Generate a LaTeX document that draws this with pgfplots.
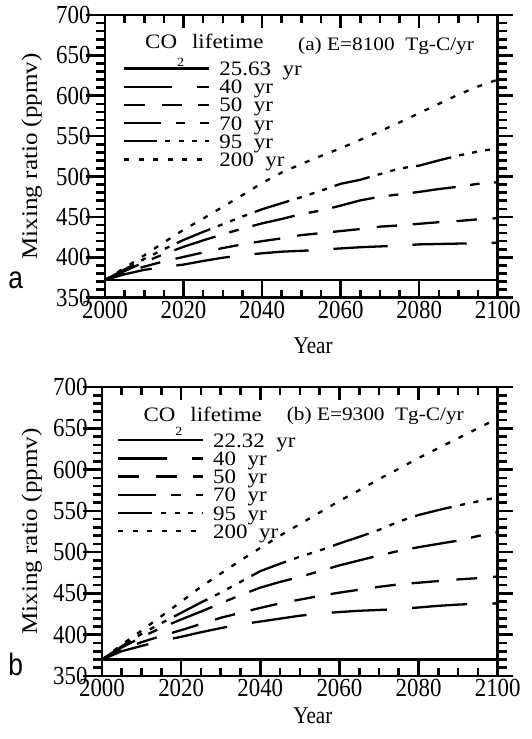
\documentclass[border=0pt]{standalone}
\usepackage{fontspec}
\setmainfont{Liberation Serif}
\newfontfamily\tickfam{Liberation Serif}[FakeStretch=0.88]
\newfontfamily\labfam{Liberation Serif}[FakeStretch=1.12]
\newfontfamily\sansfam{Liberation Sans}[FakeStretch=0.85]
\usepackage{pgfplots}
\usepackage{pgfplotstable}
\pgfplotsset{compat=1.18}

\newcommand\tickfnt{\tickfam\fontsize{26}{26}\selectfont}
\newcommand\yearfnt{\tickfam\fontsize{24}{24}\selectfont}
\newcommand\ylabfnt{\labfam\fontsize{22.4}{22.4}\selectfont}
\newcommand\legfnt{\labfam\fontsize{20.5}{20.5}\selectfont}
\newcommand\annfnt{\labfam\fontsize{19}{19}\selectfont}
\newcommand\panelfnt{\sansfam\fontsize{31}{31}\selectfont}

\pgfplotstableread{
yr   c    t40    t50    t70    t95    t200
2000 372  372    372    372    372    372
2005 372  379    380.5  383    385    387
2010 372  384.5  388.5  394    398    402.5
2015 372  388    395    404    410    418.5
2020 372  391    400.5  413    421.5  434
2025 372  395.5  406    421    431.5  448
2030 372  399.5  411.5  428.5  441    462.5
2035 372  402.5  416    435.5  450.5  477
2040 372  405    420    442    459.5  492
2045 372  407    423.5  447.5  467    505
2050 372  408    427.5  453.5  474.5  515.5
2055 372  409.5  430    458    482.5  525.5
2060 372  411    432.5  464    491    535
2065 372  412.5  435    470.5  496    545.5
2070 372  413.5  438    475    503    556
2075 372  414.5  439.5  478    510    567
2080 372  416    441.5  481    513.5  578.5
2085 372  416.5  443.5  484.5  520    590
2090 372  417    445    487.5  526    601.5
2095 372  417.5  447    491    531    611.5
2100 372  418    448.5  493    535    620
}\dataA

\pgfplotstableread{
yr   c    t40    t50    t70    t95    t200
2000 370  370    370    370    370    370
2005 370  380    382    384.5  386    388
2010 370  386.5  391    397    401    405
2015 370  392.5  398.5  408.5  414    422.5
2020 370  397.5  405.5  418.5  426.5  440
2025 370  403    413    428    439    458
2030 370  408    420.5  438    451    474
2035 370  412.5  426.5  448    464    490
2040 370  416    432.5  457    477    505
2045 370  419.5  438    464    486    520
2050 370  423    442.5  470    494.5  534
2055 370  425.5  447    477    502    548
2060 370  427.5  451    484    510.5  562
2065 370  429    454.5  490    518.5  575
2070 370  430    458    496    527    588.5
2075 370  431    461    501.5  537    601
2080 370  433    463    506    545    614
2085 370  435    465    510    551    626
2090 370  436.5  467    514    556.5  638
2095 370  437.5  468.5  519.5  561.5  650
2100 370  438    470.5  524    566.5  662
}\dataB

\tikzset{
  a40/.style={dash pattern=on 54.3pt off 24.8pt, dash phase=6.2pt},
  a50/.style={dash pattern=on 26.7pt off 17.2pt on 20.4pt off 15.7pt, dash phase=6.3pt},
  a70/.style={dash pattern=on 43.4pt off 14.4pt on 9.7pt off 14.4pt, dash phase=6.5pt},
  a95/.style={dash pattern=on 36.2pt off 8.2pt on 5pt off 8.2pt on 5pt off 8.2pt on 5pt off 8.2pt, dash phase=3.3pt},
  b40/.style={dash pattern=on 55.2pt off 25.3pt, dash phase=6.3pt},
  b50/.style={dash pattern=on 27.3pt off 17.6pt on 20.8pt off 16pt, dash phase=6.5pt},
  b70/.style={dash pattern=on 44.7pt off 14.9pt on 10pt off 14.9pt, dash phase=6.7pt},
  b95/.style={dash pattern=on 37.6pt off 8.6pt on 5.1pt off 8.6pt on 5.1pt off 8.6pt on 5.1pt off 8.6pt, dash phase=3.4pt},
  d200/.style={dash pattern=on 5pt off 9.5pt},
}

\pgfplotsset{
  myaxis/.style={
    scale only axis,
    anchor=south west,
    xmin=2000, xmax=2100, ymin=350, ymax=700,
    xtick={2000,2020,...,2100}, ytick={350,400,...,700},
    major tick length=0pt, minor tick length=0pt,
    axis line style={line width=2.7pt},
    tick label style={font=\tickfnt},
    yticklabel style={xshift=-11pt},
    /pgf/number format/assume math mode=true,
    /pgf/number format/1000 sep={},
    legend cell align=left,
    legend image code/.code={\draw[#1] (0pt,0pt) -- (85pt,0pt);},
    legend style={draw=none, fill=none, inner sep=0pt, font=\legfnt,
      nodes={inner sep=0pt, text height=14pt, text depth=0pt},
      row sep=4.2pt, column sep=9pt, anchor=north west},
    every axis plot/.append style={line width=2.3pt, black},
    xlabel={Year}, ylabel={Mixing ratio (ppmv)},
    xlabel style={font=\yearfnt, anchor=base},
    ylabel style={font=\ylabfnt, anchor=center},
  },
}

% tick marks: #1,#2 = south-west corner (pt), #3 = width, #4 = height
\newcommand\myticks[4]{%
  \begin{scope}[shift={(#1pt,#2pt)}]
    \foreach \i in {1,...,19} {
      \pgfmathsetmacro\xx{#3*\i/20}
      \pgfmathtruncatemacro\maj{(mod(\i,4)==0)}
      \ifnum\maj=1 \def\Lb{17pt}\def\Lt{13pt}\else\def\Lb{8pt}\def\Lt{8pt}\fi
      \draw[line width=2.6pt] (\xx pt,0pt) -- ++(0pt,\Lb);
      \draw[line width=2.6pt] (\xx pt,#4pt) -- ++(0pt,-\Lt);
    }
    \foreach \i in {0,...,35} {
      \pgfmathsetmacro\yy{#4*\i/35}
      \pgfmathtruncatemacro\maj{(mod(\i,5)==0)}
      \ifnum\maj=1 \def\Ll{19pt}\def\Lr{15pt}\else\def\Ll{9pt}\def\Lr{9pt}\fi
      \draw[line width=2.6pt] (0pt,\yy pt) -- ++(-\Ll,0pt);
      \draw[line width=2.6pt] (#3pt,\yy pt) -- ++(\Lr,0pt);
    }
  \end{scope}}

\begin{document}
\begin{tikzpicture}
\useasboundingbox (0pt,0pt) rectangle (532pt,-739pt);

% ---------------- panel a ----------------
\begin{axis}[myaxis,
  at={(105pt,-297.7pt)}, width=392.7pt, height=282.7pt,
  xlabel style={at={(axis description cs:0.53,-0.199)}},
  ylabel style={at={(axis description cs:-0.1867,0.5)}},
  legend style={at={(rel axis cs:0,1)}, xshift=18pt, yshift=-46.3pt},
]
\addplot[solid] table[x=yr,y=c]{\dataA};
\addlegendentry{25.63~~yr}
\addplot[a40] table[x=yr,y=t40]{\dataA};
\addlegendentry{40~~yr}
\addplot[a50] table[x=yr,y=t50]{\dataA};
\addlegendentry{50~~yr}
\addplot[a70] table[x=yr,y=t70]{\dataA};
\addlegendentry{70~~yr}
\addplot[a95] table[x=yr,y=t95]{\dataA};
\addlegendentry{95~~yr}
\addplot[d200] table[x=yr,y=t200]{\dataA};
\addlegendentry{200~~yr}
\end{axis}
\myticks{105}{-297.7}{392.7}{282.7}
\node[anchor=base west, font=\legfnt, inner sep=0pt] at (145pt,-48.3pt)
  {CO\raisebox{-18pt}{\fontsize{12.5}{12.5}\selectfont 2}\hspace{8pt}lifetime};
\node[anchor=base west, font=\annfnt, inner sep=0pt] at (298pt,-50pt)
  {(a)~E=8100~~Tg-C/yr};
\node[anchor=base west, font=\panelfnt, inner sep=0pt] at (8.3pt,-288.3pt) {a};

% ---------------- panel b ----------------
\begin{axis}[myaxis,
  at={(102pt,-676pt)}, width=395.7pt, height=289pt,
  xlabel style={at={(axis description cs:0.533,-0.166)}},
  ylabel style={at={(axis description cs:-0.1777,0.5)}},
  legend style={at={(rel axis cs:0,1)}, xshift=14.7pt, yshift=-46pt},
]
\addplot[solid] table[x=yr,y=c]{\dataB};
\addlegendentry{22.32~~yr}
\addplot[b40] table[x=yr,y=t40]{\dataB};
\addlegendentry{40~~yr}
\addplot[b50] table[x=yr,y=t50]{\dataB};
\addlegendentry{50~~yr}
\addplot[b70] table[x=yr,y=t70]{\dataB};
\addlegendentry{70~~yr}
\addplot[b95] table[x=yr,y=t95]{\dataB};
\addlegendentry{95~~yr}
\addplot[d200] table[x=yr,y=t200]{\dataB};
\addlegendentry{200~~yr}
\end{axis}
\myticks{102}{-676}{395.7}{289}
\node[anchor=base west, font=\legfnt, inner sep=0pt] at (143.3pt,-421.7pt)
  {CO\raisebox{-14pt}{\fontsize{12.5}{12.5}\selectfont 2}\hspace{8pt}lifetime};
\node[anchor=base west, font=\annfnt, inner sep=0pt] at (286.7pt,-420pt)
  {(b)~E=9300~~Tg-C/yr};
\node[anchor=base west, font=\panelfnt, inner sep=0pt] at (8.3pt,-675pt) {b};
\end{tikzpicture}
\end{document}
